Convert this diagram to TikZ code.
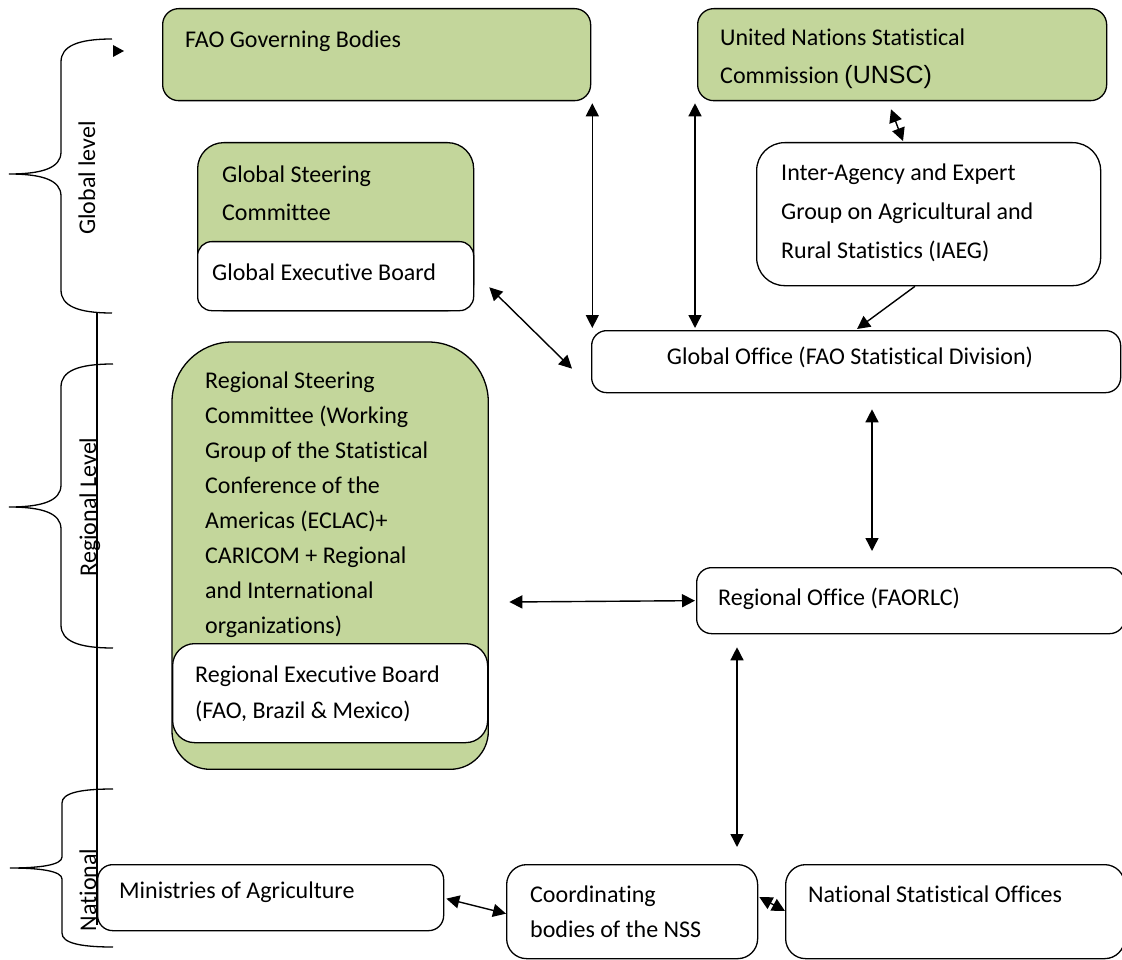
\documentclass[tikz,border=0pt]{standalone}
\usepackage{fontspec}
\setmainfont{Carlito}[Ligatures=NoCommon]
\newfontfamily\unscfont{Liberation Sans}
\usetikzlibrary{arrows.meta,calc}
\definecolor{boxgreen}{RGB}{195,214,155}
\begin{document}
\begin{tikzpicture}[x=1pt,y=-1pt,
  box/.style={draw, line width=1.3pt, inner sep=0pt, anchor=north west},
  gbox/.style={box, fill=boxgreen},
  wbox/.style={box, fill=white},
  txt/.style={anchor=north west, inner sep=0pt, align=left, font=\fontsize{24}{38.5}\selectfont},
  ctxt/.style={anchor=base, inner sep=0pt, font=\fontsize{24}{38.5}\selectfont},
  lvl/.style={anchor=base, inner sep=0pt, rotate=90, font=\fontsize{24}{29}\selectfont},
  dbl/.style={{Triangle[length=13pt,width=13pt]}-{Triangle[length=13pt,width=13pt]}, line width=1.4pt},
  sgl/.style={-{Triangle[length=13pt,width=13pt]}, line width=1.4pt},
  brace/.style={line width=1.3pt}
]
\useasboundingbox (0,0) rectangle (1122,960);
\clip (0,0) rectangle (1122,960);

% global level
\node[gbox, rounded corners=16pt, minimum width=428pt, minimum height=92pt] (fgb) at (162,8) {};
\node[txt] (tfgb) at (185,20) {\strut FAO Governing Bodies};
\node[gbox, rounded corners=16pt, minimum width=409pt, minimum height=92pt] (unsc) at (697,8) {};
\node[txt] (tunsc) at (720,18) {\strut United Nations Statistical\\Commission {\unscfont\fontsize{25}{38.5}\selectfont(UNSC)}};
\node[gbox, rounded corners=26pt, minimum width=276pt, minimum height=168pt] (gsc) at (197,142) {};
\node[txt] (tgsc) at (222,155) {\strut Global Steering\\Committee};
\node[wbox, rounded corners=14pt, minimum width=276pt, minimum height=69pt] (geb) at (197,241) {};
\node[txt] (tgeb) at (212,253) {\strut Global Executive Board};
\node[wbox, rounded corners=28pt, minimum width=344pt, minimum height=143pt] (iaeg) at (756,142) {};
\node[txt] (tiaeg) at (781,153) {\strut Inter-Agency and Expert\\[0.5pt]Group on Agricultural and\\[0.5pt]Rural Statistics (IAEG)};
\node[wbox, rounded corners=15pt, minimum width=529pt, minimum height=62pt] (go) at (591,330) {};
\node[ctxt] (tgo) at (850,364) {Global Office (FAO Statistical Division)};

% regional level
\node[box, draw=none, minimum width=315pt, minimum height=426pt] (rsc) at (172,342) {};
\filldraw[fill=boxgreen, line width=1.3pt] (rsc.west) [rounded corners=60pt] -- (rsc.north west) -- (rsc.north east) -- (rsc.east) [rounded corners=38pt] -- (rsc.south east) -- (rsc.south west) -- cycle;
\node[txt, font=\fontsize{24}{35}\selectfont] (trsc) at (205,363.5) {\strut Regional Steering\\Committee (Working\\Group of the Statistical\\Conference of the\\Americas (ECLAC)+\\CARICOM + Regional\\and International\\organizations)};
\node[wbox, rounded corners=22pt, minimum width=315pt, minimum height=99pt] (reb) at (172,643) {};
\node[txt] (treb) at (195,655) {\strut Regional Executive Board\\[-2.5pt](FAO, Brazil \& Mexico)};
\node[wbox, rounded corners=15pt, minimum width=428pt, minimum height=66pt] (ro) at (696,567) {};
\node[txt] (tro) at (718,578) {\strut Regional Office (FAORLC)};

% national level
\node[wbox, rounded corners=15pt, minimum width=346pt, minimum height=66pt] (moa) at (97,864) {};
\node[txt] (tmoa) at (119,871) {\strut Ministries of Agriculture};
\node[wbox, rounded corners=20pt, minimum width=251pt, minimum height=94pt] (cb) at (506,864) {};
\node[txt] (tcb) at (530,875) {\strut Coordinating\\[-3.5pt]bodies of the NSS};
\node[wbox, rounded corners=20pt, minimum width=339pt, minimum height=94pt] (nso) at (785,864) {};
\node[txt] (tnso) at (808,875) {\strut National Statistical Offices};

% level labels
\node[lvl] (lglobal) at (95,178) {Global level};
\node[lvl] (lregional) at (96,507) {Regional Level};
\node[lvl] (lnational) at (96,890) {National};

% braces and line
\draw[brace] (112,39) .. controls (78,39) and (61,46) .. (61,62) -- (61,152) .. controls (61,168) and (42,174) .. (9,174) .. controls (42,174) and (61,180) .. (61,196) -- (61,290) .. controls (61,306) and (78,313) .. (112,313);
\draw[brace] (113,364) .. controls (78,364) and (61,371) .. (61,387) -- (61,485) .. controls (61,501) and (42,507) .. (9,507) .. controls (42,507) and (61,513) .. (61,529) -- (61,625) .. controls (61,641) and (78,648) .. (113,648);
\draw[brace] (113,789) .. controls (80,789) and (62,793) .. (62,803) -- (62,857) .. controls (62,865) and (40,868) .. (10,868) .. controls (40,868) and (62,871) .. (62,879) -- (62,933) .. controls (62,943) and (80,947) .. (113,947);
\draw[brace] (97,313) -- (97,925);
\fill (113,45) -- (124,51) -- (113,57) -- cycle;

% connectors
\draw[dbl] ($(fgb.south east)+(1,2)$) -- ($(fgb.south east |- go.north)+(1,-2)$);
\draw[dbl] ($(unsc.south west)+(-2,2)$) -- ($(unsc.south west |- go.north)+(-2,-2)$);
\draw[dbl] ($(unsc.south west)+(194,8)$) -- ($(iaeg.north west)+(147,-1)$);
\draw[sgl] ($(iaeg.south west)+(159,0)$) -- ($(go.north west)+(266,-1)$);
\draw[dbl] ($(geb.south east)+(15,-24)$) -- ($(go.west)+(-19,7)$);
\draw[dbl] ($(go.south west)+(281,16)$) -- ($(go.south west |- ro.north)+(281,-16)$);
\draw[dbl] ($(rsc.north east)+(21,260)$) -- ($(ro.west)+(-1,0)$);
\draw[dbl] ($(ro.south west)+(41,13)$) -- ($(ro.south west |- cb.north)+(41,-17)$);
\draw[dbl] ($(moa.east)+(2,1)$) -- ($(cb.west)+(0,2)$);
\draw[dbl] ($(cb.north east)+(1,33)$) -- ($(nso.north west)+(0,47)$);
\end{tikzpicture}
\end{document}
